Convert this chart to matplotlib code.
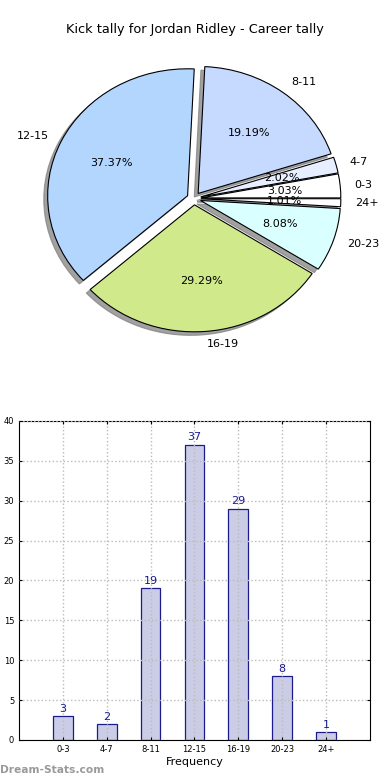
""" Kick tally pie and bar chart for one player.
"""

import matplotlib
matplotlib.use('Agg')
import matplotlib.pyplot as plt


categories = ['0-3', '4-7', '8-11', '12-15', '16-19', '20-23', '24+']
kicks = [3, 2, 19, 37, 29, 8, 1]
slice_colors = ['#ffffff', '#e6eeff', '#c6d9ff', '#b3d6ff',
                '#d0ea8b', '#d9ffff', '#ffffff']
title = 'Kick tally for Jordan Ridley - Career tally'


def create_graph(filename: str):
    """ I draw the pie on top and the bar chart below. """
    fig = plt.figure(figsize=(3.9, 7.8), dpi=100)

    # pie chart
    ax_pie = fig.add_axes([0.0487, 0.542, 0.897, 0.407])
    ax_pie.pie(kicks, labels=categories, colors=slice_colors,
               explode=[0.05] * len(kicks), autopct='%1.2f%%',
               shadow={'ox': -0.02, 'oy': -0.02, 'facecolor': '#7a7a7a',
                       'edgecolor': '#7a7a7a', 'alpha': 0.7},
               startangle=0,
               wedgeprops={'edgecolor': 'black', 'linewidth': 0.8},
               textprops={'fontsize': 8})
    ax_pie.set_aspect('auto')
    ax_pie.set_xlim(-1.25, 1.25)
    ax_pie.set_ylim(-1.25, 1.25)
    fig.text(0.5, 1 - 30 / 780, title, ha='center', va='center',
             fontsize=9.3)

    # bar chart
    ax_bar = fig.add_axes([0.0487, 0.0513, 0.9, 0.409])
    positions = list(range(1, len(kicks) + 1))
    bars = ax_bar.bar(positions, kicks, width=0.45, color='#cbcde6',
                      edgecolor='#1a1a8c', linewidth=0.9, zorder=2)
    for rect, value in zip(bars, kicks):
        ax_bar.text(rect.get_x() + rect.get_width() / 2,
                    rect.get_height() + 0.3, str(value),
                    ha='center', va='bottom', fontsize=8,
                    color='#1a1a8c', zorder=3)
    ax_bar.set_xlim(0, 8)
    ax_bar.set_ylim(0, 40)
    ax_bar.set_xticks(positions)
    ax_bar.set_xticklabels(categories)
    ax_bar.set_yticks(range(0, 41, 5))
    ax_bar.tick_params(labelsize=6, length=2, direction='in',
                       top=True, right=True)
    ax_bar.grid(True, linestyle=':', color='#bbbbbb', linewidth=1.0,
                zorder=3)
    ax_bar.set_axisbelow(False)
    ax_bar.set_xlabel('Frequency', fontsize=8, labelpad=2)

    fig.text(0.0, 1 - 770 / 780, 'Dream-Stats.com', ha='left',
             va='center', fontsize=7.7, color='#9a9a9a', fontweight='bold')

    fig.savefig(filename, dpi=100)


def main():
    """ main method
    """
    create_graph('out.png')


if __name__ == '__main__':
    main()
